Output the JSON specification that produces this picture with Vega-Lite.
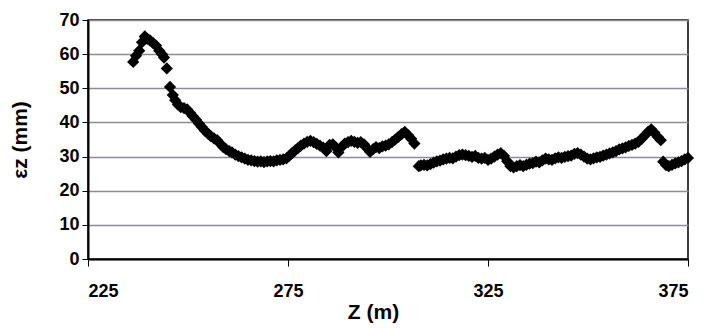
{
  "$schema": "https://vega.github.io/schema/vega-lite/v6.json",
  "width": 600,
  "height": 239,
  "autosize": "none",
  "padding": {"left": 88, "top": 20, "right": 20, "bottom": 70},
  "background": "white",
  "config": {
    "view": {"stroke": "black", "strokeWidth": 1.5},
    "font": "Liberation Sans"
  },
  "data": {
    "values": [
      {"z": 236.3, "e": 57.7}, {"z": 237.0, "e": 59.5}, {"z": 237.8, "e": 61}, {"z": 238.5, "e": 63.5},
      {"z": 239.2, "e": 65.2}, {"z": 239.8, "e": 64.5}, {"z": 240.5, "e": 64}, {"z": 241.3, "e": 63.2},
      {"z": 242.0, "e": 62.5}, {"z": 242.8, "e": 61}, {"z": 243.5, "e": 60}, {"z": 244.0, "e": 59},
      {"z": 244.7, "e": 55.8}, {"z": 245.5, "e": 50.4}, {"z": 246.2, "e": 48}, {"z": 246.8, "e": 46.5},
      {"z": 247.5, "e": 45.2}, {"z": 248.2, "e": 44.5}, {"z": 249.0, "e": 44.2}, {"z": 249.8, "e": 43.8},
      {"z": 250.5, "e": 42.8}, {"z": 251.2, "e": 41.8}, {"z": 252.0, "e": 40.8}, {"z": 252.7, "e": 39.7},
      {"z": 253.4, "e": 38.7}, {"z": 254.2, "e": 37.6}, {"z": 255.0, "e": 36.7}, {"z": 255.7, "e": 36},
      {"z": 256.5, "e": 35.3}, {"z": 257.3, "e": 34.8}, {"z": 258.0, "e": 33.8}, {"z": 258.8, "e": 32.8},
      {"z": 259.5, "e": 32.2}, {"z": 260.3, "e": 31.6}, {"z": 261.0, "e": 31.2}, {"z": 261.8, "e": 30.6},
      {"z": 262.6, "e": 30.1}, {"z": 263.4, "e": 29.8}, {"z": 264.2, "e": 29.4}, {"z": 265.0, "e": 29.0},
      {"z": 265.8, "e": 28.9}, {"z": 266.6, "e": 28.7}, {"z": 267.4, "e": 28.5}, {"z": 268.2, "e": 28.6},
      {"z": 269.0, "e": 28.4}, {"z": 269.8, "e": 28.6}, {"z": 270.6, "e": 28.7}, {"z": 271.4, "e": 28.6},
      {"z": 272.2, "e": 28.9}, {"z": 273.0, "e": 29.0}, {"z": 273.8, "e": 29.2}, {"z": 274.6, "e": 29.5},
      {"z": 275.3, "e": 30.2}, {"z": 276.0, "e": 31}, {"z": 276.8, "e": 31.8}, {"z": 277.5, "e": 32.5},
      {"z": 278.2, "e": 33.2}, {"z": 279.0, "e": 33.8}, {"z": 279.8, "e": 34.3}, {"z": 280.6, "e": 34.6},
      {"z": 281.4, "e": 34.2}, {"z": 282.2, "e": 33.7}, {"z": 283.0, "e": 33.2}, {"z": 283.8, "e": 32.6},
      {"z": 284.6, "e": 31.6}, {"z": 285.4, "e": 33.4}, {"z": 286.2, "e": 33.6}, {"z": 287.0, "e": 32.6},
      {"z": 287.6, "e": 31.2}, {"z": 288.4, "e": 32.8}, {"z": 289.2, "e": 33.8}, {"z": 290.0, "e": 34.2},
      {"z": 290.8, "e": 34.6}, {"z": 291.6, "e": 34.3}, {"z": 292.4, "e": 34.0}, {"z": 293.2, "e": 34.2},
      {"z": 294.0, "e": 33.6}, {"z": 294.8, "e": 32.4}, {"z": 295.5, "e": 31.4}, {"z": 296.3, "e": 32.2},
      {"z": 297.0, "e": 32.8}, {"z": 297.8, "e": 32.5}, {"z": 298.6, "e": 33}, {"z": 299.4, "e": 33.2},
      {"z": 300.2, "e": 33.6}, {"z": 301.0, "e": 34.2}, {"z": 301.8, "e": 35}, {"z": 302.6, "e": 35.8},
      {"z": 303.4, "e": 36.6}, {"z": 304.2, "e": 37.2}, {"z": 305.0, "e": 36.3}, {"z": 305.8, "e": 35.2},
      {"z": 306.6, "e": 33.8},
      {"z": 307.7, "e": 27.2}, {"z": 308.2, "e": 27.4}, {"z": 309.0, "e": 27.6}, {"z": 309.8, "e": 27.4},
      {"z": 310.6, "e": 27.8}, {"z": 311.4, "e": 28.2}, {"z": 312.2, "e": 28.6}, {"z": 313.0, "e": 28.8},
      {"z": 313.8, "e": 29.2}, {"z": 314.6, "e": 29.4}, {"z": 315.4, "e": 29.6}, {"z": 316.2, "e": 29.5},
      {"z": 317.0, "e": 30.0}, {"z": 317.8, "e": 30.4}, {"z": 318.6, "e": 30.6}, {"z": 319.4, "e": 30.4},
      {"z": 320.2, "e": 30.2}, {"z": 321.0, "e": 29.9}, {"z": 321.8, "e": 30.2}, {"z": 322.6, "e": 29.6},
      {"z": 323.4, "e": 29.4}, {"z": 324.2, "e": 29.6}, {"z": 325.0, "e": 29.0}, {"z": 325.8, "e": 29.4},
      {"z": 326.6, "e": 30.0}, {"z": 327.4, "e": 30.6}, {"z": 328.2, "e": 31.0}, {"z": 329.0, "e": 30.2},
      {"z": 329.8, "e": 28.6}, {"z": 330.6, "e": 27.2}, {"z": 331.4, "e": 26.8}, {"z": 332.2, "e": 27.2},
      {"z": 333.0, "e": 27.5}, {"z": 333.8, "e": 27.2}, {"z": 334.6, "e": 27.6}, {"z": 335.4, "e": 27.9},
      {"z": 336.2, "e": 28.1}, {"z": 337.0, "e": 28.5}, {"z": 337.8, "e": 28.3}, {"z": 338.6, "e": 28.9},
      {"z": 339.4, "e": 29.4}, {"z": 340.2, "e": 29.2}, {"z": 341.0, "e": 29.0}, {"z": 341.8, "e": 29.5},
      {"z": 342.6, "e": 29.8}, {"z": 343.4, "e": 29.6}, {"z": 344.2, "e": 29.9}, {"z": 345.0, "e": 30.1},
      {"z": 345.8, "e": 30.3}, {"z": 346.6, "e": 30.8}, {"z": 347.4, "e": 31.0}, {"z": 348.2, "e": 30.6},
      {"z": 349.0, "e": 30.0}, {"z": 349.8, "e": 29.4}, {"z": 350.6, "e": 29.2}, {"z": 351.4, "e": 29.5},
      {"z": 352.2, "e": 29.8}, {"z": 353.0, "e": 29.9}, {"z": 353.8, "e": 30.3}, {"z": 354.6, "e": 30.6},
      {"z": 355.4, "e": 30.9}, {"z": 356.2, "e": 31.2}, {"z": 357.0, "e": 31.6}, {"z": 357.8, "e": 32.1},
      {"z": 358.6, "e": 32.4}, {"z": 359.4, "e": 32.7}, {"z": 360.2, "e": 33.1}, {"z": 361.0, "e": 33.4},
      {"z": 361.8, "e": 33.8}, {"z": 362.6, "e": 34.3}, {"z": 363.4, "e": 35.2}, {"z": 364.2, "e": 36.2},
      {"z": 365.0, "e": 37.2}, {"z": 365.8, "e": 38.0}, {"z": 366.6, "e": 37.0}, {"z": 367.4, "e": 35.8},
      {"z": 368.2, "e": 34.8},
      {"z": 368.8, "e": 28.5}, {"z": 369.5, "e": 27.5}, {"z": 370.2, "e": 27.2}, {"z": 371.0, "e": 27.6},
      {"z": 371.8, "e": 28.0}, {"z": 372.6, "e": 28.3}, {"z": 373.4, "e": 28.7}, {"z": 374.2, "e": 29.2},
      {"z": 375.0, "e": 29.6}
    ]
  },
  "mark": {"type": "point", "shape": "diamond", "filled": true, "color": "black", "size": 150, "opacity": 1},
  "encoding": {
    "x": {
      "field": "z", "type": "quantitative",
      "scale": {"domain": [225, 375], "nice": false, "zero": false},
      "axis": {
        "title": "Z (m)", "values": [225, 275, 325, 375], "grid": false,
        "domainColor": "black", "domainWidth": 2, "tickColor": "black", "tickSize": 7, "tickWidth": 1,
        "labelFont": "Liberation Sans", "labelFontWeight": "bold", "labelFontSize": 18, "labelColor": "black",
        "labelPadding": 16,
        "titleFont": "Liberation Sans", "titleFontWeight": "bold", "titleFontSize": 21, "titleColor": "black",
        "titlePadding": 1, "titleX": 285
      }
    },
    "y": {
      "field": "e", "type": "quantitative",
      "scale": {"domain": [0, 70], "nice": false},
      "axis": {
        "title": "εz (mm)", "values": [0, 10, 20, 30, 40, 50, 60, 70],
        "grid": true, "gridColor": "#8f8a9a", "gridWidth": 1.5,
        "domainColor": "black", "domainWidth": 2, "tickColor": "black", "tickSize": 6, "tickWidth": 1,
        "labelFont": "Liberation Sans", "labelFontWeight": "bold", "labelFontSize": 18, "labelColor": "black",
        "labelPadding": 3,
        "titleFont": "Liberation Sans", "titleFontWeight": "bold", "titleFontSize": 21, "titleColor": "black",
        "titlePadding": 28
      }
    }
  }
}
